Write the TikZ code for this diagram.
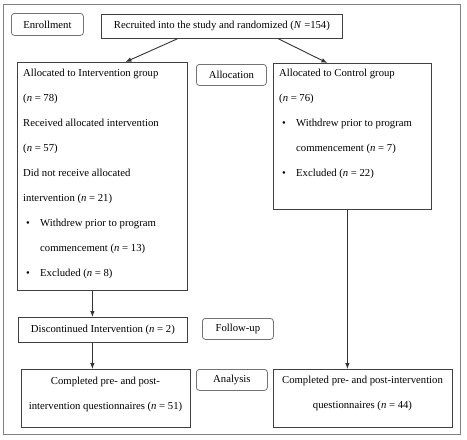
\documentclass[tikz,border=0pt]{standalone}
\usepackage{fontspec}
\setmainfont{Liberation Serif}
\usetikzlibrary{arrows.meta}
\begin{document}
\begin{tikzpicture}[x=1pt,y=-1pt,
 frame/.style={draw=black!50, line width=1.4pt, inner sep=0pt, anchor=north west},
 box/.style={draw=black!75, line width=0.8pt, inner sep=0pt, anchor=north west, font=\fontsize{10.7}{13}\selectfont},
 stage/.style={draw=black!55, line width=0.8pt, rounded corners=3pt, inner sep=0pt, anchor=north west, font=\fontsize{10.7}{13}\selectfont},
 txt/.style={inner sep=0pt, anchor=north west, align=left, font=\fontsize{10.7}{25}\selectfont},
 ctxt/.style={inner sep=0pt, align=center, font=\fontsize{10.7}{25}\selectfont},
 arr/.style={draw=black!80, line width=0.9pt, -{Latex[length=6pt,width=4.5pt]}}]
\useasboundingbox (0,0) rectangle (467,440);
\node[frame, minimum width=457pt, minimum height=430pt] (fr) at (3,4) {};
% stage labels
\node[stage, minimum width=72pt, minimum height=22pt] (enr) at (11,13) {Enrollment};
\node[stage, minimum width=70pt, minimum height=21pt] (alloc) at (196,64) {Allocation};
\node[stage, minimum width=71pt, minimum height=21pt] (fu) at (202,318) {Follow-up};
\node[stage, minimum width=71pt, minimum height=21pt] (an) at (196,369) {Analysis};
% boxes
\node[box, minimum width=241pt, minimum height=24pt] (rec) at (101,14) {Recruited into the study and randomized (\textit{N} =154)};
\node[box, minimum width=170pt, minimum height=228pt] (iv) at (17,62) {};
\node[box, minimum width=158pt, minimum height=146pt] (ctl) at (273,63) {};
\node[box, minimum width=169pt, minimum height=25pt] (disc) at (18,317) {Discontinued Intervention (\textit{n} = 2)};
\node[box, minimum width=169pt, minimum height=58pt] (cl) at (21,369) {};
\node[box, minimum width=179pt, minimum height=58pt] (cr) at (273,369) {};
% texts
\node[txt] (ivt) at (23,69) {Allocated to Intervention group\\
(\textit{n} = 78)\\
Received allocated intervention\\
(\textit{n} = 57)\\
Did not receive allocated\\
intervention (\textit{n} = 21)\\
\hspace*{3pt}\makebox[14pt][l]{\textbullet}Withdrew prior to program\\
\hspace*{17pt}commencement (\textit{n} = 13)\\
\hspace*{3pt}\makebox[14pt][l]{\textbullet}Excluded (\textit{n} = 8)};
\node[txt] (ctlt) at (279,69) {Allocated to Control group\\
(\textit{n} = 76)\\
\hspace*{3pt}\makebox[14pt][l]{\textbullet}Withdrew prior to program\\
\hspace*{17pt}commencement (\textit{n} = 7)\\
\hspace*{3pt}\makebox[14pt][l]{\textbullet}Excluded (\textit{n} = 22)};
\node[ctxt] (clt) at (105.5,394) {Completed pre- and post-\\intervention questionnaires (\textit{n} = 51)};
\node[ctxt] (crt) at (362.5,393) {Completed pre- and post-intervention\\questionnaires (\textit{n} = 44)};
% connectors
\draw[arr] ([xshift=-44.5pt]rec.south) -- ([xshift=23pt]iv.north);
\draw[arr] ([xshift=56.5pt]rec.south) -- ([xshift=-25pt]ctl.north);
\draw[arr] ([xshift=-10pt]iv.south) -- ([xshift=-10.5pt]disc.north);
\draw[arr] ([xshift=-10.5pt]disc.south) -- ([xshift=-13.5pt]cl.north);
\draw[arr] ([xshift=-5pt]ctl.south) -- ([xshift=-15.5pt]cr.north);
\end{tikzpicture}
\end{document}
